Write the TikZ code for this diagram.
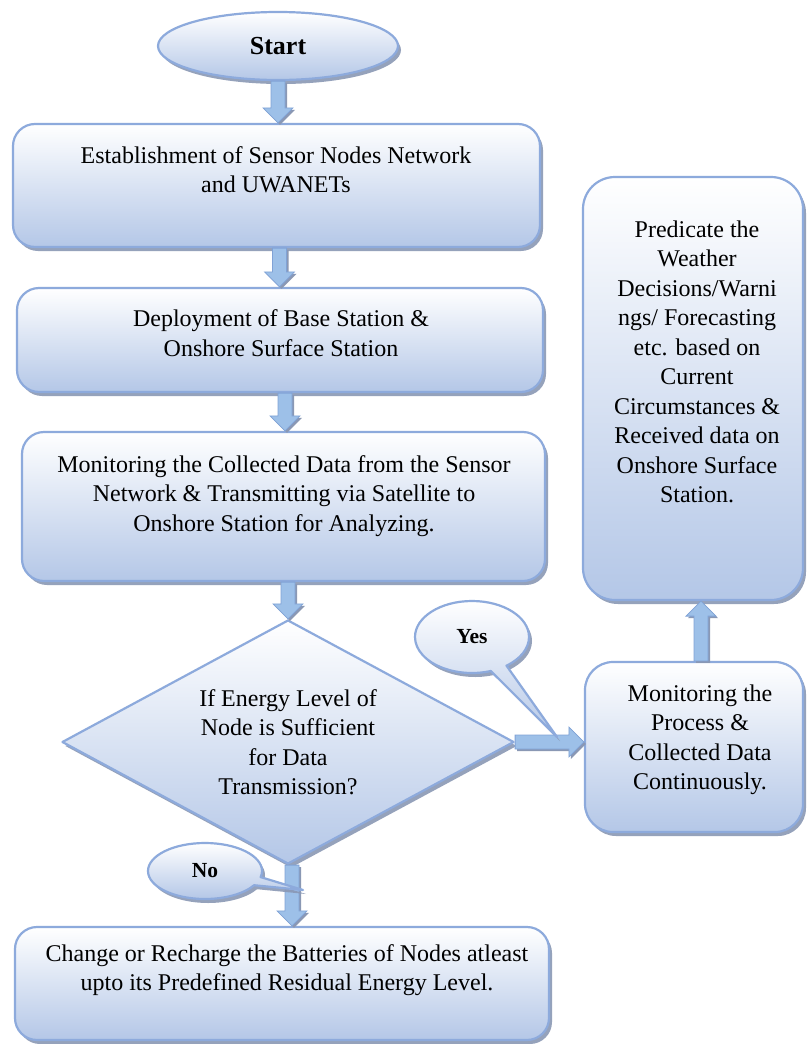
\documentclass[tikz,border=0pt]{standalone}
\usepackage{fontspec}
\setmainfont{Liberation Serif}
\usetikzlibrary{calc,shapes.geometric,shapes.callouts,shadows}

\definecolor{edgeblue}{RGB}{141,170,220}
\definecolor{boxblue}{RGB}{180,199,231}
\definecolor{shadowblue}{RGB}{138,152,180}
\definecolor{arrowfill}{RGB}{157,192,232}
\definecolor{arrowedge}{RGB}{128,162,214}

% outline of a block arrow from (fa-s) to (fa-e); head base at (fa-h)
\newcommand{\arrowoutline}{%
  ($(fa-s)!7pt!90:(fa-e)$) -- ($(fa-h)!7pt!90:(fa-e)$) --
  ($(fa-h)!15pt!90:(fa-e)$) -- (fa-e) --
  ($(fa-h)!15pt!-90:(fa-e)$) -- ($(fa-h)!7pt!-90:(fa-e)$) --
  ($(fa-s)!7pt!-90:(fa-e)$) -- cycle}

% block arrow with a small drop shadow
\newcommand{\flowarrow}[2]{%
  \coordinate (fa-s) at (#1);
  \coordinate (fa-e) at (#2);
  \coordinate (fa-h) at ($(fa-e)!15pt!(fa-s)$);
  \begin{scope}[transform canvas={shift={(2pt,-2pt)}}]
    \fill[shadowblue] \arrowoutline;
  \end{scope}
  \filldraw[fill=arrowfill, draw=arrowedge, line width=0.8pt, line join=miter] \arrowoutline;
}

\tikzset{
  flowshape/.style={draw=edgeblue, line width=2.2pt, top color=white,
    bottom color=boxblue, inner sep=0pt, line join=round,
    drop shadow={shadow xshift=3pt, shadow yshift=-4pt, fill=shadowblue, opacity=0.9}},
  stepbox/.style={flowshape, rectangle, rounded corners=22pt},
  boxtext/.style={align=center, inner sep=0pt, font=\fontsize{24}{29.5}\selectfont},
  calloutbox/.style={flowshape, ellipse callout, callout pointer arc=18,
    font=\bfseries\fontsize{21.5}{25}\selectfont},
}

\begin{document}
\begin{tikzpicture}[x=1pt,y=-1pt]
\useasboundingbox (0,0) rectangle (807,1044);
\fill[white] (0,0) rectangle (807,1044);

% terminal
\node[flowshape, ellipse, minimum width=240pt, minimum height=68pt,
      font=\bfseries\fontsize{26}{30}\selectfont] (start) at (278,46) {Start};

% process boxes on the left
\node[stepbox, minimum width=527pt, minimum height=123pt] (b1) at (276.5,185.5) {};
\node[boxtext] (t1) at (276,169.5) {Establishment of Sensor Nodes Network\\and UWANETs};

\node[stepbox, minimum width=526pt, minimum height=104pt] (b2) at (280,340) {};
\node[boxtext] (t2) at (281,333) {Deployment of Base Station \&\\Onshore Surface Station};

\node[stepbox, minimum width=523pt, minimum height=149pt] (b3) at (283.5,506.5) {};
\node[boxtext] (t3) at (284,496) {Monitoring the Collected Data from the Sensor\\Network \& Transmitting via Satellite to\\Onshore Station for Analyzing.};

% decision
\node[flowshape, diamond, aspect=1.85, minimum width=452pt, minimum height=244pt,
      font=\fontsize{24}{29.5}\selectfont, align=center] (dec) at (288,742)
      {If Energy Level of\\Node is Sufficient\\for Data\\Transmission?};

\node[stepbox, minimum width=534pt, minimum height=113pt] (b4) at (282,983.5) {};
\node[boxtext] (t4) at (287,970) {Change or Recharge the Batteries of Nodes atleast\\upto its Predefined Residual Energy Level.};

% boxes on the right
\node[stepbox, rounded corners=32pt, minimum width=220pt, minimum height=423pt] (pred) at (693,388.5) {};
\node[boxtext] (tp) at (697,362) {Predicate the\\Weather\\Decisions/Warni\\ngs/ Forecasting\\etc. based on\\Current\\Circumstances \&\\Received data on\\Onshore Surface\\Station.};

\node[stepbox, rounded corners=28pt, minimum width=218pt, minimum height=170pt] (mon) at (694,747) {};
\node[boxtext] (tm) at (700,740) {Monitoring the\\Process \&\\Collected Data\\Continuously.};

% connectors
\coordinate (b1out) at ($(b1.south)+(3,0)$);
\coordinate (b2out) at ($(b2.south)+(5,0)$);
\coordinate (decout) at ($(dec.south)+(4,0)$);
\coordinate (monout) at ($(mon.north)+(7,0)$);
\flowarrow{start.south}{start.south |- b1.north}
\flowarrow{b1out}{b1out |- b2.north}
\flowarrow{b2out}{b2out |- b3.north}
\flowarrow{b3.south -| dec.north}{dec.north}
\flowarrow{decout}{decout |- b4.north}
\flowarrow{dec.east}{dec.east -| mon.west}
\flowarrow{monout}{monout |- pred.south}

% branch labels
\coordinate (yestip) at (557,737);
\node[calloutbox, minimum width=114pt, minimum height=72pt,
      callout absolute pointer=(yestip)] (yes) at (472,637) {Yes};
\coordinate (notip) at (303,890);
\node[calloutbox, minimum width=114pt, minimum height=56pt,
      callout absolute pointer=(notip)] (no) at (205,871) {No};
\end{tikzpicture}
\end{document}
